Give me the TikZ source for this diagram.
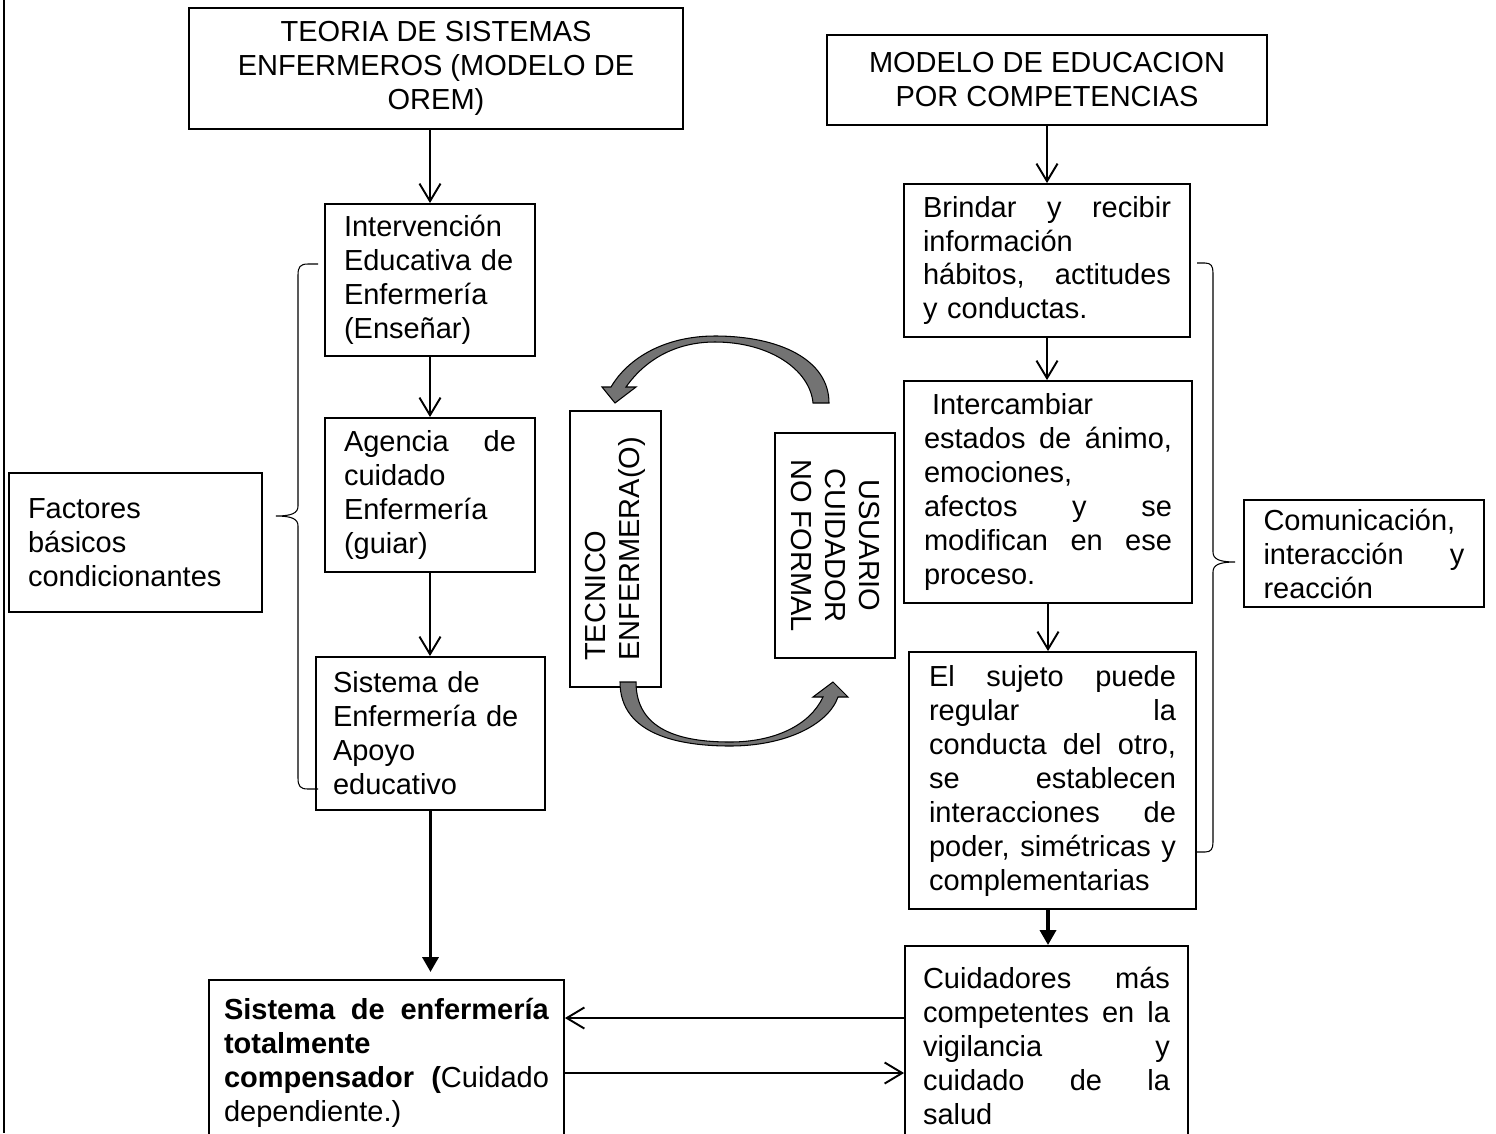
\documentclass[tikz,border=0pt]{standalone}
\usepackage{fontspec}
\setmainfont{Liberation Sans}
\usetikzlibrary{arrows.meta}

\begin{document}
\begin{tikzpicture}[
  x=0.02cm, y=-0.02cm,
  every node/.style={font=\fontsize{16.5}{19.35}\selectfont},
  box/.style={draw, line width=1.1pt, inner sep=0pt},
  txtbox/.style={box, align=left},
  arr/.style={line width=1.1pt, -{Straight Barb[length=10pt,width=12pt]}},
  bigarr/.style={line width=2.2pt, -{Triangle[length=8.5pt,width=9pt]}},
  bendarrow/.style={draw=black, line width=0.6pt, fill=black!55},
  brc/.style={line width=0.6pt},
]

\useasboundingbox (0,0) rectangle (1496,1133);
\clip (0,0) rectangle (1496,1133);

\draw [line width=1.2pt] (4,0) -- (4,1133);

\node [box, align=center, minimum width=9.88cm, minimum height=2.42cm] (orem) at (436,68.5)
  {TEORIA DE SISTEMAS\\ENFERMEROS (MODELO DE\\OREM)};
\node [box, align=center, minimum width=8.8cm, minimum height=1.8cm] (comp) at (1047,80)
  {MODELO DE EDUCACION\\POR COMPETENCIAS};

\node [txtbox, text width=3.44cm, minimum width=4.2cm, minimum height=3.04cm] (educ) at (430,280)
  {Intervención\\Educativa de\\Enfermería\\(Enseñar)};
\node [txtbox, text width=3.44cm, minimum width=4.2cm, minimum height=3.08cm] (agen) at (430,495)
  {Agencia \hfill de\\cuidado\\Enfermería\\(guiar)};
\node [txtbox, text width=3.9cm, minimum width=4.58cm, minimum height=3.06cm] (apoyo) at (430.5,733.5)
  {Sistema de\\Enfermería de\\Apoyo\\educativo};
\node [txtbox, text width=6.5cm, minimum width=7.1cm, minimum height=3.32cm] (total) at (386.5,1063)
  {\textbf{Sistema \hfill de \hfill enfermería}\\\textbf{totalmente}\\\textbf{compensador} \hfill \textbf{(}Cuidado\\dependiente.)};
\node [txtbox, text width=4.3cm, minimum width=5.06cm, minimum height=2.78cm] (fact) at (135.5,542.5)
  {Factores\\básicos\\condicionantes};

\node [txtbox, text width=4.96cm, minimum width=5.72cm, minimum height=3.06cm] (brin) at (1047,260.5)
  {Brindar \hfill y \hfill recibir\\información\\hábitos, \hfill actitudes\\y conductas.};
\node [txtbox, text width=4.96cm, minimum width=5.76cm, minimum height=4.44cm] (inter) at (1048,492)
  {\hspace*{0.16cm}Intercambiar\\estados \hfill de \hfill ánimo,\\emociones,\\afectos \hfill y \hfill se\\modifican \hfill en \hfill ese\\proceso.};
\node [txtbox, text width=4.94cm, minimum width=5.74cm, minimum height=5.14cm] (suj) at (1052.5,780.5)
  {El \hfill sujeto \hfill puede\\regular \hfill la\\conducta \hfill del \hfill otro,\\se \hfill establecen\\interacciones \hfill de\\poder, \hfill simétricas \hfill y\\complementarias};
\node [txtbox, text width=4.94cm, minimum width=5.66cm, minimum height=4cm] (cuid) at (1046.5,1046)
  {Cuidadores \hfill más\\competentes \hfill en \hfill la\\vigilancia \hfill y\\cuidado \hfill de \hfill la\\salud};
\node [txtbox, text width=4.02cm, minimum width=4.8cm, minimum height=2.14cm] (comu) at (1364,553.5)
  {Comunicación,\\interacción \hfill y\\reacción};

\node [box, rotate=90, align=left, minimum width=5.52cm, minimum height=1.82cm] (tec) at (615.5,549)
  {TECNICO\\ENFERMERA(O)};
\node [box, rotate=-90, align=center, minimum width=4.5cm, minimum height=2.4cm] (usu) at (835,545.5)
  {USUARIO\\CUIDADOR\\NO FORMAL};

\draw [arr] (educ.north |- orem.south) -- (educ.north);
\draw [arr] (educ.south) -- (educ.south |- agen.north);
\draw [arr] (agen.south) -- (agen.south |- apoyo.north);
\draw [bigarr, shorten >=4pt] (apoyo.south) -- (apoyo.south |- total.north);

\draw [arr] (comp.south) -- (comp.south |- brin.north);
\draw [arr] (brin.south) -- (brin.south |- inter.north);
\draw [arr] (inter.south) -- (inter.south |- suj.north);
\draw [bigarr] (inter.south |- suj.south) -- (inter.south |- cuid.north);

\draw [arr] (cuid.west |- 0,1018) -- (total.east |- 0,1018);
\draw [arr] (total.east |- 0,1073) -- (cuid.west |- 0,1073);

\draw [brc] (318,264) -- (308,264) .. controls (300,264) and (298,267) .. (298,275)
  -- (298,506) .. controls (298,513) and (292,516) .. (276,516)
  .. controls (292,516) and (298,519) .. (298,526)
  -- (298,778) .. controls (298,786) and (300,789) .. (308,789) -- (318,789);
\draw [brc] (1197,263) -- (1205,263) .. controls (1211,263) and (1213,266) .. (1213,273)
  -- (1213,552) .. controls (1213,559) and (1219,562) .. (1235,562)
  .. controls (1219,562) and (1213,565) .. (1213,572)
  -- (1213,842) .. controls (1213,849) and (1211,852) .. (1205,852) -- (1197,852);

\path [bendarrow] (829,403) .. controls (829,360) and (780,336) .. (715,336)
  .. controls (665,336) and (628,358) .. (611,387) -- (602,387) -- (615,403) -- (636,387) -- (626,387)
  .. controls (645,360) and (675,342) .. (715,342)
  .. controls (770,342) and (810,370) .. (813,403) -- cycle;
\path [bendarrow] (620,682) .. controls (620,735) and (680,746) .. (730,746)
  .. controls (785,746) and (828,725) .. (838,697) -- (848,697) -- (833,682) -- (813,697) -- (823,697)
  .. controls (810,725) and (775,742) .. (730,742)
  .. controls (680,742) and (636,730) .. (636,682) -- cycle;

\end{tikzpicture}
\end{document}
